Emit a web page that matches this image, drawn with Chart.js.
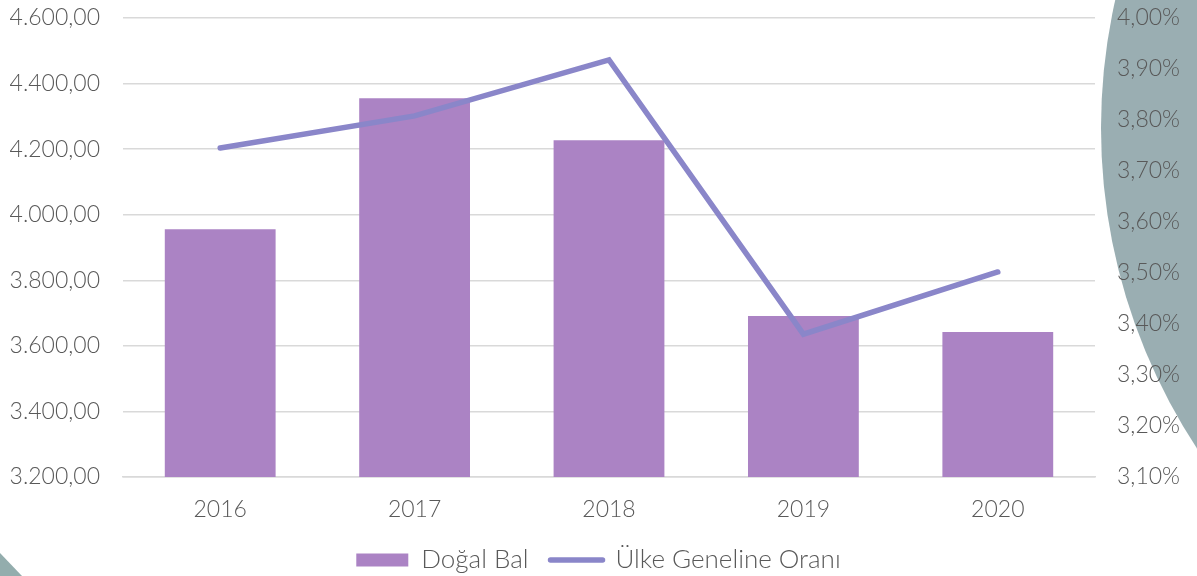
<!DOCTYPE html>
<html><head><meta charset="utf-8">
<script src="https://cdn.jsdelivr.net/npm/chart.js@4/dist/chart.umd.min.js"></script>
<style>html,body{margin:0;padding:0;background:#fff}#wrap{width:1197px;height:576px;position:relative}</style>
</head><body><div id="wrap"><canvas id="c"></canvas></div>
<script>
const categories = ['2016','2017','2018','2019','2020'];
const dogalBal = [3956, 4355, 4227, 3691, 3642];
const ulkeOrani = [3.745, 3.808, 3.918, 3.38, 3.502];
const leftTicks = {min: 3200, max: 4600, step: 200};
const rightTicks = {min: 3.1, max: 4.0, step: 0.1};

const FONT = 'Lato';
const FW = 300;
const FS = 23;
const GREY = '#595959';

const bgShapes = {
  id: 'bgShapes',
  beforeDraw(chart) {
    const ctx = chart.ctx;
    ctx.save();
    ctx.fillStyle = '#9aaeb2';
    ctx.beginPath();
    ctx.arc(1684, 128, 583, 0, Math.PI * 2);
    ctx.fill();
    ctx.fillStyle = '#93adad';
    ctx.beginPath();
    ctx.moveTo(0, 553); ctx.lineTo(22, 576); ctx.lineTo(0, 576); ctx.closePath();
    ctx.fill();
    ctx.restore();
  }
};

function fixY(width) {
  return s => { s.width = width; s.paddingTop = 18; s.paddingBottom = 0; };
}

new Chart(document.getElementById('c'), {
  data: {
    labels: categories,
    datasets: [
      {type: 'line', label: 'Ülke Geneline Oranı', data: ulkeOrani, yAxisID: 'y1',
       borderColor: '#8a86c9', backgroundColor: '#8a86c9', borderWidth: 5.5, pointRadius: 0,
       tension: 0, borderCapStyle: 'round', borderJoinStyle: 'miter', order: 0},
      {type: 'bar', label: 'Doğal Bal', data: dogalBal, yAxisID: 'y',
       backgroundColor: '#ab83c4', barPercentage: 0.57, categoryPercentage: 1, order: 1}
    ]
  },
  options: {
    responsive: true, maintainAspectRatio: false, animation: false,
    layout: {padding: {top: 0, left: 0, right: 0, bottom: 0}},
    plugins: {
      tooltip: {enabled: false},
      legend: {
        position: 'bottom',
        maxHeight: 51,
        labels: {
          color: GREY, font: {family: FONT, size: 26, weight: FW}, usePointStyle: true,
          pointStyleWidth: 52, boxHeight: 13, padding: 22,
          generateLabels(chart) {
            const ds = chart.data.datasets;
            return [
              {text: ds[1].label, fillStyle: ds[1].backgroundColor, strokeStyle: ds[1].backgroundColor,
               lineWidth: 0, pointStyle: 'rect', datasetIndex: 1, fontColor: GREY},
              {text: ds[0].label, fillStyle: ds[0].borderColor, strokeStyle: ds[0].borderColor,
               lineWidth: 5.5, lineCap: 'round', pointStyle: 'line', datasetIndex: 0, fontColor: GREY}
            ];
          }
        }
      }
    },
    scales: {
      x: {
        grid: {display: false, drawTicks: false},
        border: {display: true, color: '#d9d9d9', width: 1.5},
        ticks: {color: GREY, font: {family: FONT, size: FS, weight: FW}, padding: 19},
        afterFit: s => { s.height = 48; }
      },
      y: {
        position: 'left', min: leftTicks.min, max: leftTicks.max,
        grid: {color: '#d9d9d9', lineWidth: 1.5, drawTicks: false},
        border: {display: false},
        ticks: {stepSize: leftTicks.step, color: GREY, font: {family: FONT, size: FS, weight: FW}, padding: 23,
          callback: v => v.toLocaleString('tr-TR', {minimumFractionDigits: 2, maximumFractionDigits: 2})},
        afterFit: fixY(123)
      },
      y1: {
        position: 'right', min: rightTicks.min, max: rightTicks.max,
        grid: {display: false, drawTicks: false},
        border: {display: false},
        ticks: {stepSize: rightTicks.step, color: GREY, font: {family: FONT, size: FS, weight: FW}, padding: 22,
          callback: v => v.toFixed(2).replace('.', ',') + '%'},
        afterFit: fixY(102)
      }
    }
  },
  plugins: [bgShapes]
});
</script></body></html>
